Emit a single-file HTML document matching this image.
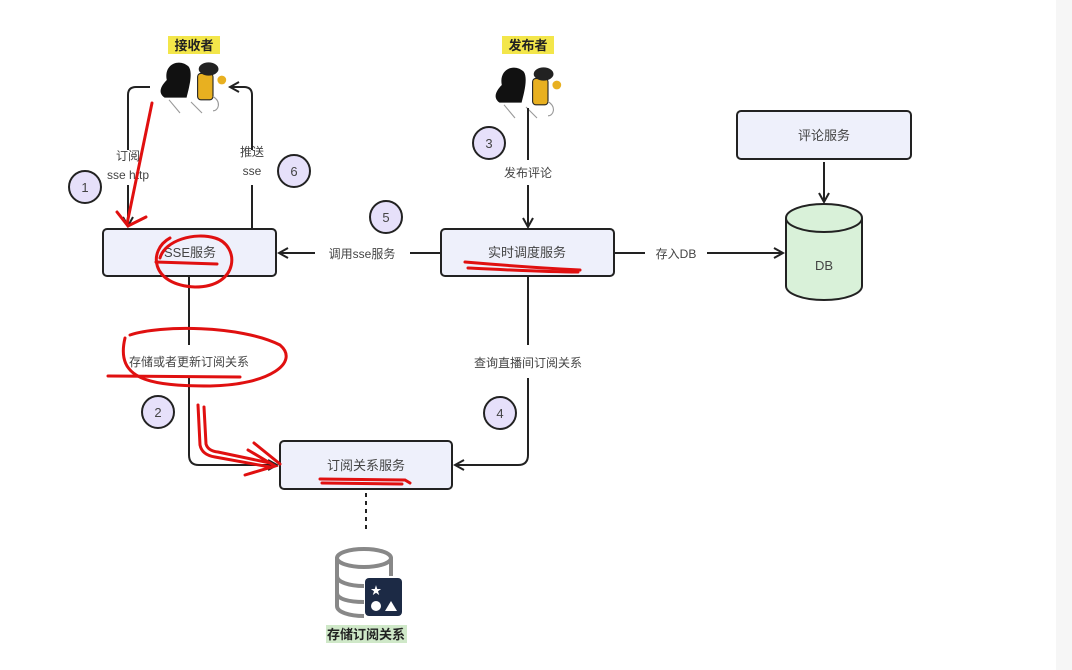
<!DOCTYPE html>
<html><head><meta charset="utf-8"><style>
html,body{margin:0;padding:0;background:#fff;}
svg{display:block;}
text{font-family:"Liberation Sans","Noto Sans CJK SC",sans-serif;fill:#444;}
</style></head><body>
<svg width="1072" height="670" viewBox="0 0 1072 670" xmlns="http://www.w3.org/2000/svg">
<defs>
<marker id="ar" markerWidth="12" markerHeight="12" refX="10" refY="6" orient="auto" markerUnits="userSpaceOnUse">
<path d="M1,1 L10,6 L1,11" fill="none" stroke="#222" stroke-width="2"/>
</marker>
</defs>
<rect x="0" y="0" width="1072" height="670" fill="#fff"/>
<rect x="1056" y="0" width="16" height="670" fill="#f6f6f6"/>

<rect x="168" y="36" width="52" height="18" fill="#f3e64a"/>
<text x="194" y="50" font-size="13" font-weight="bold" text-anchor="middle" style="fill:#222">接收者</text>
<rect x="502" y="36" width="52" height="18" fill="#f3e64a"/>
<text x="528" y="50" font-size="13" font-weight="bold" text-anchor="middle" style="fill:#222">发布者</text>

<g transform="translate(158,58) scale(1.1)">
<path d="M8,20 C5,5 20,0 28,8 C32,14 28,28 26,36 L6,36 C0,32 2,26 8,20Z" fill="#111"/>
<rect x="36" y="14" width="14" height="24" rx="3" fill="#e8b020" stroke="#222"/>
<ellipse cx="46" cy="10" rx="9" ry="6" fill="#222"/>
<circle cx="58" cy="20" r="4" fill="#e8b020"/>
<path d="M10,38 L20,50 M30,40 L40,50 M50,35 C58,40 55,48 50,48" stroke="#999" fill="none"/>
</g>
<g transform="translate(493,63) scale(1.1)">
<path d="M8,20 C5,5 20,0 28,8 C32,14 28,28 26,36 L6,36 C0,32 2,26 8,20Z" fill="#111"/>
<rect x="36" y="14" width="14" height="24" rx="3" fill="#e8b020" stroke="#222"/>
<ellipse cx="46" cy="10" rx="9" ry="6" fill="#222"/>
<circle cx="58" cy="20" r="4" fill="#e8b020"/>
<path d="M10,38 L20,50 M30,40 L40,50 M50,35 C58,40 55,48 50,48" stroke="#999" fill="none"/>
</g>

<g stroke="#222" stroke-width="2" fill="#eef0fb">
<rect x="103" y="229" width="173" height="47" rx="4"/>
<rect x="441" y="229" width="173" height="47" rx="4"/>
<rect x="280" y="441" width="172" height="48" rx="4"/>
<rect x="737" y="111" width="174" height="48" rx="4"/>
</g>
<text x="190" y="257" font-size="13" text-anchor="middle">SSE服务</text>
<text x="527" y="257" font-size="13" text-anchor="middle">实时调度服务</text>
<text x="366" y="470" font-size="13" text-anchor="middle">订阅关系服务</text>
<text x="824" y="140" font-size="13" text-anchor="middle">评论服务</text>

<path d="M786,218 L786,286 A38,14 0 0 0 862,286 L862,218" fill="#d9f1d9" stroke="#222" stroke-width="2"/>
<ellipse cx="824" cy="218" rx="38" ry="14" fill="#d9f1d9" stroke="#222" stroke-width="2"/>
<text x="824" y="270" font-size="13" text-anchor="middle">DB</text>

<g stroke="#222" stroke-width="2" fill="none">
<path d="M150,87 L136,87 Q128,87 128,95 L128,150"/>
<path d="M128,185 L128,226" marker-end="url(#ar)"/>
<path d="M252,150 L252,95 Q252,87 244,87 L230,87" marker-end="url(#ar)"/>
<path d="M252,185 L252,228"/>
<path d="M528,108 L528,160"/>
<path d="M528,185 L528,227" marker-end="url(#ar)"/>
<path d="M441,253 L410,253"/>
<path d="M315,253 L279,253" marker-end="url(#ar)"/>
<path d="M614,253 L645,253"/>
<path d="M707,253 L783,253" marker-end="url(#ar)"/>
<path d="M824,162 L824,202" marker-end="url(#ar)"/>
<path d="M189,276 L189,345"/>
<path d="M189,378 L189,455 Q189,465 199,465 L277,465" marker-end="url(#ar)"/>
<path d="M528,276 L528,345"/>
<path d="M528,378 L528,455 Q528,465 518,465 L455,465" marker-end="url(#ar)"/>
<path d="M366,493 L366,532" stroke-dasharray="4,4"/>
</g>

<g font-size="12" text-anchor="middle">
<text x="128" y="160">订阅</text>
<text x="128" y="179">sse http</text>
<text x="252" y="156">推送</text>
<text x="252" y="175">sse</text>
<text x="528" y="177">发布评论</text>
<text x="362" y="258">调用sse服务</text>
<text x="676" y="258">存入DB</text>
<text x="189" y="366">存储或者更新订阅关系</text>
<text x="528" y="367">查询直播间订阅关系</text>
</g>

<g stroke="#222" stroke-width="2" fill="#e6e0fa">
<circle cx="85" cy="187" r="16"/>
<circle cx="294" cy="171" r="16"/>
<circle cx="489" cy="143" r="16"/>
<circle cx="386" cy="217" r="16"/>
<circle cx="158" cy="412" r="16"/>
<circle cx="500" cy="413" r="16"/>
</g>
<g font-size="13" text-anchor="middle" style="fill:#333">
<text x="85" y="192">1</text>
<text x="294" y="176">6</text>
<text x="489" y="148">3</text>
<text x="386" y="222">5</text>
<text x="158" y="417">2</text>
<text x="500" y="418">4</text>
</g>

<g transform="translate(335,548)">
<ellipse cx="29" cy="10" rx="27" ry="9" fill="none" stroke="#888" stroke-width="4"/>
<path d="M2,10 L2,58 C2,64 14,68 29,68 M2,28 C2,34 14,38 29,38 M2,45 C2,51 14,54 29,54 M56,10 L56,28" fill="none" stroke="#888" stroke-width="4"/>
<rect x="30" y="30" width="37" height="38" rx="4" fill="#1c2a45"/>
<text x="41" y="46" font-size="11" text-anchor="middle" style="fill:#fff">★</text>
<circle cx="41" cy="58" r="5" fill="#fff"/>
<path d="M50,63 L56,53 L62,63Z" fill="#fff"/>
</g>
<rect x="326" y="625" width="81" height="18" fill="#cfe8c8"/>
<text x="366" y="639" font-size="13" font-weight="bold" text-anchor="middle" style="fill:#222">存储订阅关系</text>

<g stroke="#e01010" stroke-width="3" fill="none" stroke-linecap="round">
<path d="M152,103 L127,224"/>
<path d="M117,212 L128,226 L146,217"/>
<path d="M170,238 C148,250 150,285 195,287 C240,287 240,245 215,238 C195,232 165,240 160,258"/>
<path d="M156,262 L217,264"/>
<path d="M465,262 C500,265 540,268 580,270"/>
<path d="M468,268 C510,270 545,272 578,272"/>
<path d="M130,335 C160,325 240,325 280,345 C300,362 270,385 210,386 C150,386 115,380 125,338"/>
<path d="M108,376 L240,377"/>
<path d="M198,405 L200,445 Q202,455 215,457 L270,467"/>
<path d="M204,407 L206,444 Q208,451 218,452 L270,463"/>
<path d="M248,450 L275,466 L245,475"/>
<path d="M254,443 L280,464"/>
<path d="M320,479 L405,480 L410,483"/>
<path d="M322,483 L402,484"/>
</g>
</svg>
</body></html>
